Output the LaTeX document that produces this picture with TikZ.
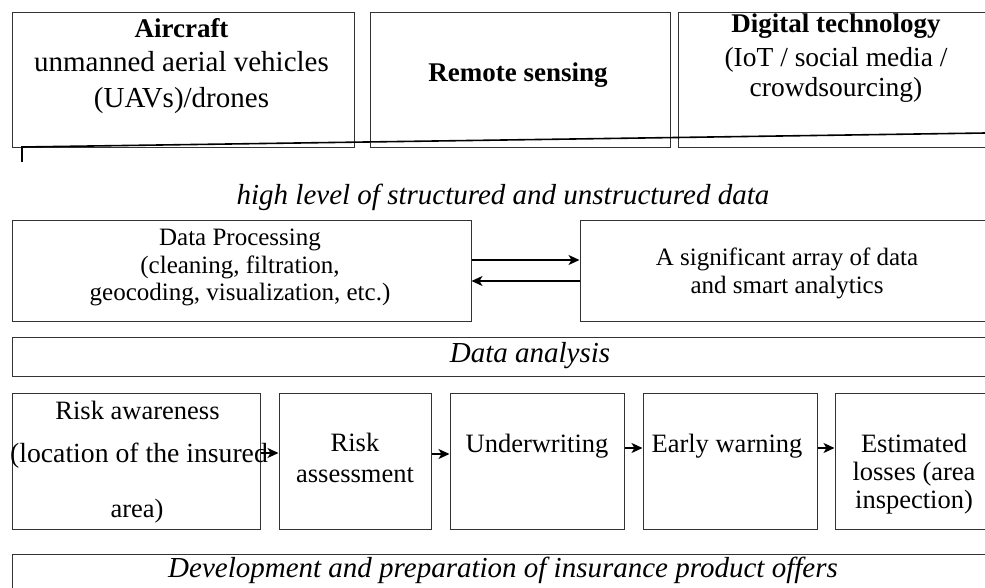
\documentclass[tikz,border=0pt]{standalone}
\usepackage{fontspec}
\setmainfont{Liberation Serif}
\usetikzlibrary{arrows.meta}
\tikzset{
  box/.style={draw=black!80, line width=1pt, rectangle, inner sep=0pt},
  ln/.style={anchor=base, inner sep=0pt},
  ttl/.style={ln, font=\fontsize{27}{32}\selectfont\bfseries},
  big/.style={ln, font=\fontsize{29}{34}\selectfont},
  mid/.style={ln, font=\fontsize{27.5}{32}\selectfont},
  sml/.style={ln, font=\fontsize{25}{29}\selectfont},
  row/.style={ln, font=\fontsize{26.5}{30}\selectfont},
  itl/.style={ln, font=\fontsize{29}{34}\selectfont\itshape},
  arr/.style={draw=black, line width=1.5pt, -{Stealth[length=11pt,width=10pt,inset=3pt]}},
}
\begin{document}
\begin{tikzpicture}[x=1pt,y=-1pt]
\useasboundingbox (0,0) rectangle (985,588);
% top boxes
\node[box, minimum width=342pt, minimum height=135pt] (b1) at (183,80.5) {};
\node[box, minimum width=300pt, minimum height=135pt] (b2) at (520,80.5) {};
\node[box, minimum width=317pt, minimum height=135pt] (b3) at (836.5,80.5) {};
\node[ttl] (t1a) at (181.5,38) {Aircraft};
\node[big] (t1b) at (181.5,72) {unmanned aerial vehicles};
\node[big] (t1c) at (181.5,108) {(UAVs)/drones};
\node[ttl] (t2a) at (518,82) {Remote sensing};
\node[ttl] (t3a) at (836,33) {Digital technology};
\node[mid] (t3b) at (836,67) {(IoT / social media /};
\node[mid] (t3c) at (836,97) {crowdsourcing)};
% slanted line and tick
\coordinate (t0) at (22,162);
\coordinate (s0) at (22,147);
\coordinate (s1) at (986,133);
\draw[line width=1.6pt, black] (t0) -- (s0) -- (s1);
% data text
\node[itl] (hl) at (503,205) {high level of structured and unstructured data};
% processing boxes
\node[box, minimum width=459pt, minimum height=100pt] (dp) at (241.5,271) {};
\node[box, minimum width=415pt, minimum height=100pt] (sa) at (787.5,271) {};
\node[sml] (dpa) at (240,245) {Data Processing};
\node[sml] (dpb) at (240,273) {(cleaning, filtration,};
\node[sml] (dpc) at (240,300) {geocoding, visualization, etc.)};
\node[sml] (saa) at (787,265) {A significant array of data};
\node[sml] (sab) at (787,293) {and smart analytics};
\draw[arr] (dp.east |- 0,260) -- (sa.west |- 0,260);
\draw[arr] (sa.west |- 0,281) -- (dp.east |- 0,281);
% data analysis
\node[box, minimum width=983pt, minimum height=39pt] (da) at (503.5,356.5) {};
\node[itl] (dat) at (530,362) {Data analysis};
% bottom row
\node[box, minimum width=248pt, minimum height=136pt] (bA) at (136,461) {};
\node[box, minimum width=152pt, minimum height=136pt] (bB) at (355,461) {};
\node[box, minimum width=174pt, minimum height=136pt] (bC) at (537,461) {};
\node[box, minimum width=174pt, minimum height=136pt] (bD) at (730,461) {};
\node[box, minimum width=160pt, minimum height=136pt] (bE) at (915,461) {};
\node[row] (ra) at (137.5,419) {Risk awareness};
\node[row, font=\fontsize{27.7}{30}\selectfont] (rb) at (139,462) {(location of the insured};
\node[row] (rc) at (137,517) {area)};
\node[row] (rd) at (355,451) {Risk};
\node[row] (re) at (355,482) {assessment};
\node[row] (rf) at (537,452) {Underwriting};
\node[row] (rg) at (727,452) {Early warning};
\node[row] (rh) at (914,452) {Estimated};
\node[row] (ri) at (914,480) {losses (area};
\node[row] (rj) at (914,508) {inspection)};
\draw[arr] (bA.east |- 0,453) -- (bB.west |- 0,453);
\draw[arr] (bB.east |- 0,454) -- (bC.west |- 0,454);
\draw[arr] (bC.east |- 0,448) -- (bD.west |- 0,448);
\draw[arr] (bD.east |- 0,448) -- (bE.west |- 0,448);
% final
\node[box, minimum width=983pt, minimum height=66pt] (fn) at (503.5,587) {};
\node[itl] (fnt) at (503,577) {Development and preparation of insurance product offers};
\end{tikzpicture}
\end{document}
